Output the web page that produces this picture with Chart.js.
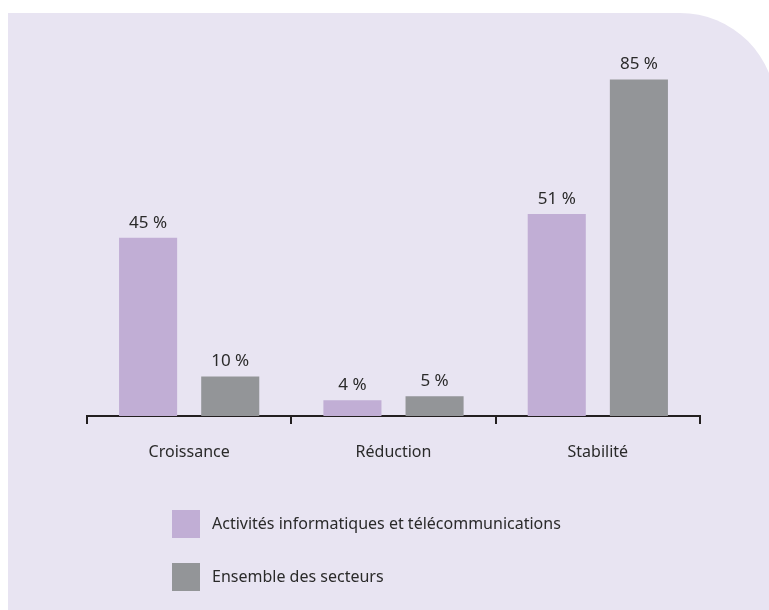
<!DOCTYPE html>
<html>
<head>
<meta charset="utf-8">
<script src="https://cdn.jsdelivr.net/npm/chart.js@4.4.1/dist/chart.umd.min.js"></script>
<style>
  html, body { margin: 0; padding: 0; background: #ffffff; }
  #chart { display: block; }
</style>
</head>
<body>
<canvas id="chart" width="769" height="610"></canvas>
<script>
// data
const categories = ["Croissance", "Réduction", "Stabilité"];
const seriesNames = ["Activités informatiques et télécommunications", "Ensemble des secteurs"];
const itTelecom = [45, 4, 51];
const allSectors = [10, 5, 85];

const PURPLE = "#c1aed5";
const GREY = "#939598";
const PANEL = "#e8e4f2";
const INK = "#2a2a2a";
const AXIS = "#231f20";
const FONT = "'Noto Sans', sans-serif";

// lavender panel with rounded top-right corner
const panelPlugin = {
  id: "panel",
  beforeDraw(chart) {
    const ctx = chart.ctx;
    const left = 8, top = 13, right = 776, bottom = 620, r = 96;
    ctx.save();
    ctx.fillStyle = PANEL;
    ctx.beginPath();
    ctx.moveTo(left, top);
    ctx.lineTo(right - r, top);
    ctx.arc(right - r, top + r, r, -Math.PI / 2, 0);
    ctx.lineTo(right, bottom);
    ctx.lineTo(left, bottom);
    ctx.closePath();
    ctx.fill();
    ctx.restore();
  },
};

// value labels above bars
const valueLabels = {
  id: "valueLabels",
  afterDatasetsDraw(chart) {
    const ctx = chart.ctx;
    ctx.save();
    ctx.fillStyle = INK;
    ctx.font = "17px " + FONT;
    ctx.textAlign = "center";
    ctx.textBaseline = "alphabetic";
    chart.data.datasets.forEach((ds, i) => {
      chart.getDatasetMeta(i).data.forEach((bar, j) => {
        ctx.fillText(ds.data[j] + " %", bar.x, bar.y - 10);
      });
    });
    ctx.restore();
  },
};

// vertical legend below the chart
const legendPlugin = {
  id: "sideLegend",
  afterDraw(chart) {
    const ctx = chart.ctx;
    ctx.save();
    ctx.font = "16px " + FONT;
    ctx.textBaseline = "middle";
    ctx.textAlign = "left";
    chart.data.datasets.forEach((ds, i) => {
      const y = 510 + i * 53;
      ctx.fillStyle = ds.backgroundColor;
      ctx.fillRect(172, y, 28, 28);
      ctx.fillStyle = INK;
      ctx.fillText(ds.label, 212, y + 14);
    });
    ctx.restore();
  },
};

new Chart(document.getElementById("chart"), {
  type: "bar",
  data: {
    labels: categories,
    datasets: [
      { label: seriesNames[0], data: itTelecom, backgroundColor: PURPLE },
      { label: seriesNames[1], data: allSectors, backgroundColor: GREY },
    ],
  },
  options: {
    responsive: false,
    animation: false,
    events: [],
    layout: { padding: { left: 87, right: 69, top: 20, bottom: 150 } },
    datasets: {
      bar: { categoryPercentage: 0.804, barPercentage: 0.707 },
    },
    scales: {
      x: {
        afterFit(scale) {
          scale.height = 44;
        },
        grid: {
          offset: true,
          drawOnChartArea: false,
          drawTicks: true,
          tickLength: 8,
          color: AXIS,
          lineWidth: 2,
        },
        border: { color: AXIS, width: 2 },
        ticks: {
          color: INK,
          font: { family: FONT, size: 16 },
          padding: 19,
        },
      },
      y: {
        display: false,
        min: 0,
        max: 100,
      },
    },
    plugins: {
      legend: { display: false },
      tooltip: { enabled: false },
    },
  },
  plugins: [panelPlugin, valueLabels, legendPlugin],
});
</script>
</body>
</html>
